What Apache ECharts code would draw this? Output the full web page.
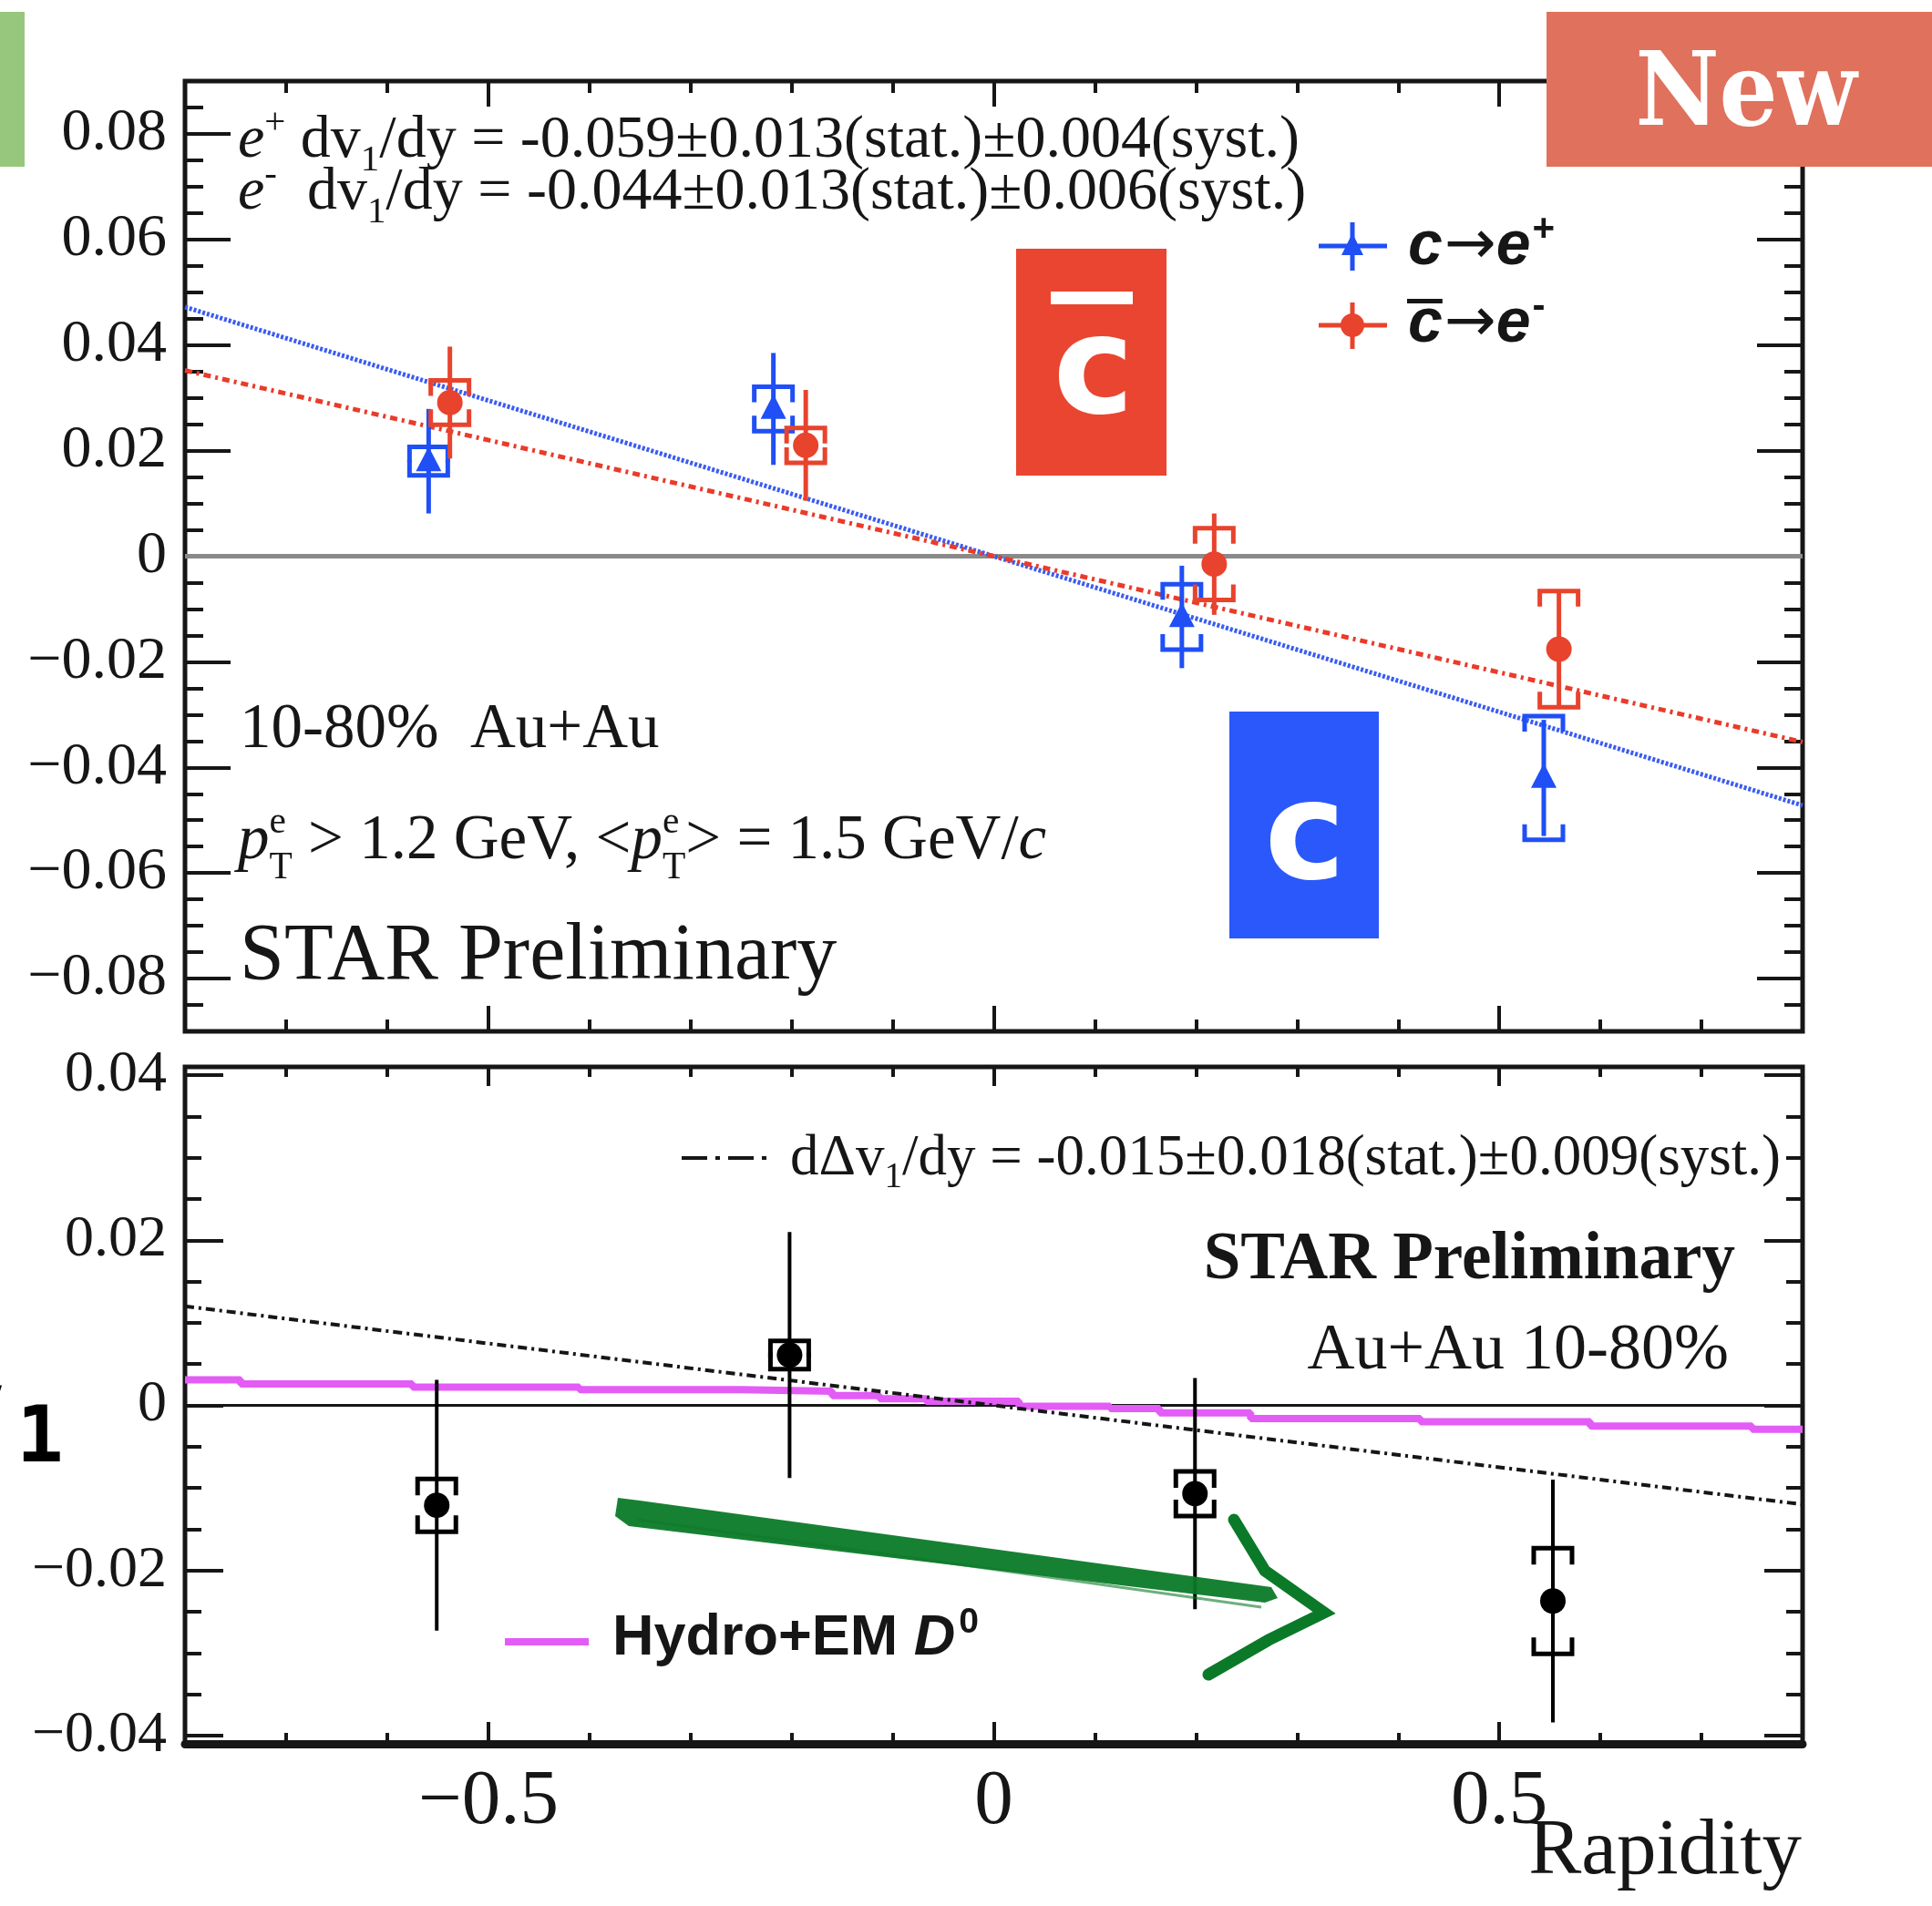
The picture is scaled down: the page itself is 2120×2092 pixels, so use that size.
<!DOCTYPE html>
<html>
<head>
<meta charset="utf-8">
<script src="https://cdn.jsdelivr.net/npm/echarts@6/dist/echarts.min.js"></script>
<style>
  html, body { margin: 0; padding: 0; background: #fff; }
  #chart { width: 2120px; height: 2092px; }
</style>
</head>
<body>
<div id="chart"></div>
<script>
// ---- c -> e+ (blue triangles) ----
const rapidityPlus = [-0.559, -0.218, 0.186, 0.544];
const v1Plus       = [0.0180, 0.0279, -0.0115, -0.0420];
const statPlus     = [0.0099, 0.0106, 0.0097, 0.0110];
const systPlus     = [0.0027, 0.0042, 0.0062, 0.0117];

// ---- cbar -> e- (red circles) ----
const rapidityMinus = [-0.538, -0.186, 0.218, 0.559];
const v1Minus       = [0.0291, 0.0210, -0.0015, -0.0176];
const statMinus     = [0.0106, 0.0105, 0.0096, 0.0110];
const systMinus     = [0.0042, 0.0033, 0.0068, 0.0110];

// ---- difference Delta v1 (black) ----
const rapidityDiff = [-0.551, -0.202, 0.199, 0.553];
const deltaV1      = [-0.0121, 0.0061, -0.0107, -0.0237];
const statDiff     = [0.0152, 0.0149, 0.0140, 0.0147];
const systDiff     = [0.0032, 0.0017, 0.0027, 0.0064];

// ---- linear fit slopes dv1/dy ----
const slopePlus  = -0.059;
const slopeMinus = -0.044;
const slopeDiff  = -0.015;

// ---- Hydro+EM D0 prediction (histogram bins) ----
const hydroEdges = [-0.8, -0.745, -0.575, -0.41, -0.25, -0.16, -0.113, -0.067, 0.025, 0.115, 0.164, 0.254, 0.422, 0.59, 0.75, 0.8];
const hydroV1    = [0.0031, 0.0026, 0.0022, 0.0019, 0.0017, 0.0012, 0.0008, 0.0005, -0.0001, -0.0004, -0.0009, -0.0016, -0.0020, -0.0025, -0.0029];

// ---- axis ranges and tick labels ----
const xRange = [-0.8, 0.8];
const yRangeTop = [-0.09, 0.09];
const yRangeBottom = [-0.041, 0.041];
const xMajor = [-0.5, 0, 0.5];
const yMajorTop = [-0.08, -0.06, -0.04, -0.02, 0, 0.02, 0.04, 0.06, 0.08];
const yMajorBottom = [-0.04, -0.02, 0, 0.02, 0.04];

const SERIF = "'Liberation Serif','Times New Roman',serif";
const SANS = "'Liberation Sans',Arial,sans-serif";
const DEJAVU = "'DejaVu Sans',sans-serif";
const MONO = "'DejaVu Sans Mono','Liberation Mono',monospace";
const INK = '#161616';
const BLUE = '#1f4ff5';
const RED = '#e8432d';
const MAGENTA = '#e35cf6';

function steps(lo, hi, step) {
  const out = [];
  const n = Math.round((hi - lo) / step);
  for (let i = 0; i <= n; i++) out.push(Math.round((lo + i * step) * 10000) / 10000);
  return out;
}
const xMinor = steps(-0.7, 0.7, 0.1);
const yMinorTop = steps(-0.085, 0.085, 0.005);
const yMinorBottom = steps(-0.04, 0.04, 0.005);

const minus = '\u2212';
const fmt2 = v => v === 0 ? '0' : (v < 0 ? minus : '') + Math.abs(v).toFixed(2);
const fmt1 = v => v === 0 ? '0' : (v < 0 ? minus : '') + Math.abs(v).toFixed(1);

// ---- axes ----
function xA(grid, pos, vals, len, label, lineW) {
  return {
    type: 'value', gridIndex: grid, position: pos, min: xRange[0], max: xRange[1],
    axisLine: { show: !!lineW, onZero: false, lineStyle: { color: INK, width: lineW || 1 } },
    splitLine: { show: false },
    axisTick: { show: true, inside: true, length: len, customValues: vals, lineStyle: { color: INK, width: 4 } },
    axisLabel: label ? Object.assign({ customValues: vals }, label) : { show: false }
  };
}
function yA(grid, pos, range, vals, len, label) {
  return {
    type: 'value', gridIndex: grid, position: pos, min: range[0], max: range[1],
    axisLine: { show: false, onZero: false },
    splitLine: { show: false },
    axisTick: { show: true, inside: true, length: len, customValues: vals, lineStyle: { color: INK, width: 4 } },
    axisLabel: label ? Object.assign({ customValues: vals }, label) : { show: false }
  };
}

const xAxes = [
  xA(0, 'bottom', xMinor, 13), xA(0, 'bottom', xMajor, 28),
  xA(0, 'top', xMinor, 13), xA(0, 'top', xMajor, 28),
  xA(1, 'bottom', xMinor, 12), xA(1, 'bottom', xMajor, 24,
    { show: true, margin: 22, formatter: fmt1, fontFamily: SERIF, fontSize: 85, color: INK }, 9),
  xA(1, 'top', xMinor, 11), xA(1, 'top', xMajor, 21)
];
const yAxes = [
  yA(0, 'left', yRangeTop, yMinorTop, 20),
  yA(0, 'left', yRangeTop, yMajorTop, 50,
    { show: true, margin: 20, formatter: fmt2, fontFamily: SERIF, fontSize: 66, color: INK }),
  yA(0, 'right', yRangeTop, yMinorTop, 20), yA(0, 'right', yRangeTop, yMajorTop, 50),
  yA(1, 'left', yRangeBottom, yMinorBottom, 18),
  yA(1, 'left', yRangeBottom, yMajorBottom, 42,
    { show: true, margin: 20, formatter: fmt2, fontFamily: SERIF, fontSize: 64, color: INK }),
  yA(1, 'right', yRangeBottom, yMinorBottom, 18), yA(1, 'right', yRangeBottom, yMajorBottom, 42)
];

// ---- error-bar points with bracket-style systematic uncertainties ----
function pointSeries(name, xs, ys, st, sy, color, marker, xi, yi, opt) {
  return {
    type: 'custom', name, xAxisIndex: xi, yAxisIndex: yi, z: 10, clip: false,
    data: xs.map((x, i) => [x, ys[i], st[i], sy[i]]),
    renderItem: (params, api) => {
      const x = api.value(0), y = api.value(1), e = api.value(2), s = api.value(3);
      const c = api.coord([x, y]);
      const t = api.coord([x, y + e]), b = api.coord([x, y - e]);
      const sT = api.coord([x, y + s]), sB = api.coord([x, y - s]);
      const hw = opt.hw, leg = opt.leg;
      const br = { stroke: color, lineWidth: opt.brW, fill: null, lineJoin: 'miter' };
      const kids = [
        { type: 'line', shape: { x1: c[0], y1: t[1], x2: c[0], y2: b[1] }, style: { stroke: color, lineWidth: opt.barW } },
        { type: 'polyline', shape: { points: [[c[0] - hw, sT[1] + leg], [c[0] - hw, sT[1]], [c[0] + hw, sT[1]], [c[0] + hw, sT[1] + leg]] }, style: br },
        { type: 'polyline', shape: { points: [[c[0] - hw, sB[1] - leg], [c[0] - hw, sB[1]], [c[0] + hw, sB[1]], [c[0] + hw, sB[1] - leg]] }, style: br }
      ];
      if (marker === 'triangle') {
        kids.push({ type: 'polygon', shape: { points: [[c[0], c[1] - 16], [c[0] - 14, c[1] + 11], [c[0] + 14, c[1] + 11]] }, style: { fill: color } });
      } else {
        kids.push({ type: 'circle', shape: { cx: c[0], cy: c[1], r: opt.r }, style: { fill: color } });
      }
      return { type: 'group', children: kids };
    }
  };
}

function fitLine(slope, xi, yi, color, width, dash) {
  return {
    type: 'line', xAxisIndex: xi, yAxisIndex: yi, z: 5, silent: true, symbol: 'none',
    data: [[xRange[0], slope * xRange[0]], [xRange[1], slope * xRange[1]]],
    lineStyle: { color, width, type: dash }
  };
}
function zeroLine(xi, yi, color, width) {
  return {
    type: 'line', xAxisIndex: xi, yAxisIndex: yi, z: 2, silent: true, symbol: 'none',
    data: [[xRange[0], 0], [xRange[1], 0]], lineStyle: { color, width }
  };
}

const hydroPts = [];
hydroV1.forEach((v, i) => { hydroPts.push([hydroEdges[i], v]); hydroPts.push([hydroEdges[i + 1], v]); });

// ---- text layout helper (super/subscripts) ----
const mctx = document.createElement('canvas').getContext('2d');
function fontStr(size, it, b, fam) { return (it ? 'italic ' : '') + (b ? 'bold ' : '') + size.toFixed(1) + 'px ' + fam; }
function textEl(x, y, text, font, fill, align) {
  return { type: 'text', x, y, z: 60, silent: true,
    style: { text, font, fill, textAlign: align || 'left', textVerticalAlign: 'middle' } };
}
function mathText(x0, base, size, fam, parts, o) {
  o = o || {};
  const fill = o.fill || INK, bold = !!o.bold;
  const els = [];
  let x = x0;
  const pos = [];
  parts.forEach(p => {
    const pf = p.fam || fam;
    if (p.stack) {
      const s = size * 0.6;
      let w = 0;
      p.stack.forEach((t, k) => {
        const f = fontStr(s, false, bold, pf);
        mctx.font = f;
        w = Math.max(w, mctx.measureText(t).width);
        const dy = k === 0 ? -size * 0.42 : size * 0.30;
        els.push(textEl(x, base + dy - s * 0.3, t, f, fill));
      });
      pos.push([x, w]);
      x += w + (p.gap || 0);
      return;
    }
    const small = p.sup || p.sub;
    const s = (small ? size * 0.62 : size) * (p.scale || 1);
    const dy = p.sup ? -size * 0.40 : p.sub ? size * 0.22 : 0;
    const f = fontStr(s, !!p.it, p.b === undefined ? bold : p.b, pf);
    mctx.font = f;
    const w = mctx.measureText(p.t).width;
    els.push(textEl(x + (p.pre || 0), base + dy - s * 0.3, p.t, f, fill));
    pos.push([x + (p.pre || 0), w]);
    x += w + (p.pre || 0) + (p.gap || 0);
  });
  els.pos = pos;
  return els;
}

// ---- annotations ----
const graphics = [];
graphics.push(...mathText(261, 174, 66, SERIF, [
  { t: 'e', it: true }, { t: '+', sup: true }, { t: ' dv' }, { t: '1', sub: true },
  { t: '/dy = -0.059\u00b10.013(stat.)\u00b10.004(syst.)' }]));
graphics.push(...mathText(261, 231, 66, SERIF, [
  { t: 'e', it: true }, { t: '-', sup: true }, { t: '  dv' }, { t: '1', sub: true },
  { t: '/dy = -0.044\u00b10.013(stat.)\u00b10.006(syst.)' }]));
graphics.push(...mathText(263, 823, 69, SERIF, [{ t: '10-80%  Au+Au' }]));
graphics.push(...mathText(261, 945, 69, SERIF, [
  { t: 'p', it: true }, { stack: ['e', 'T'] }, { t: ' > 1.2 GeV, <' },
  { t: 'p', it: true }, { stack: ['e', 'T'] }, { t: '> = 1.5 GeV/' }, { t: 'c', it: true }]));
graphics.push(...mathText(263, 1077, 88, SERIF, [{ t: 'STAR Preliminary' }]));

// legend (top panel)
graphics.push({ type: 'line', z: 60, shape: { x1: 1447, y1: 270, x2: 1522, y2: 270 }, style: { stroke: BLUE, lineWidth: 5 } });
graphics.push({ type: 'line', z: 60, shape: { x1: 1484, y1: 244, x2: 1484, y2: 297 }, style: { stroke: BLUE, lineWidth: 5 } });
graphics.push({ type: 'polygon', z: 61, shape: { points: [[1484, 256], [1472, 280], [1496, 280]] }, style: { fill: BLUE } });
graphics.push({ type: 'line', z: 60, shape: { x1: 1447, y1: 357, x2: 1522, y2: 357 }, style: { stroke: RED, lineWidth: 5 } });
graphics.push({ type: 'line', z: 60, shape: { x1: 1484, y1: 332, x2: 1484, y2: 383 }, style: { stroke: RED, lineWidth: 5 } });
graphics.push({ type: 'circle', z: 61, shape: { cx: 1484, cy: 357, r: 13 }, style: { fill: RED } });
const arrowPart = { t: '\u2192', fam: DEJAVU, b: false, scale: 1.0, pre: 2 };
graphics.push(...mathText(1545, 292, 68, SANS, [
  { t: 'c', it: true }, arrowPart, { t: 'e', it: true, gap: 2 }, { t: '+', sup: true }], { bold: true }));
const cbarLeg = mathText(1545, 377, 68, SANS, [
  { t: 'c', it: true }, arrowPart, { t: 'e', it: true, gap: 2 }, { t: '-', sup: true }], { bold: true });
graphics.push(...cbarLeg);
graphics.push({ type: 'rect', z: 60, shape: { x: cbarLeg.pos[0][0] - 1, y: 328, width: cbarLeg.pos[0][1] + 1, height: 5 }, style: { fill: INK } });

// bottom panel texts
graphics.push({ type: 'line', z: 60, shape: { x1: 748, y1: 1271, x2: 846, y2: 1271 }, style: { stroke: INK, lineWidth: 4, lineDash: [28, 9, 5, 9] } });
graphics.push(...mathText(867, 1291, 63, SERIF, [
  { t: 'd\u0394v' }, { t: '1', sub: true }, { t: '/dy = -0.015\u00b10.018(stat.)\u00b10.009(syst.)' }]));
graphics.push(textEl(1904, 1406 - 0.3 * 73, 'STAR Preliminary', fontStr(73, false, true, SERIF), INK, 'right'));
graphics.push(textEl(1897, 1505 - 0.3 * 72, 'Au+Au 10-80%', fontStr(72, false, false, SERIF), INK, 'right'));
graphics.push({ type: 'line', z: 60, shape: { x1: 554, y1: 1802, x2: 646, y2: 1802 }, style: { stroke: MAGENTA, lineWidth: 8 } });
graphics.push(...mathText(672, 1818, 63, SANS, [
  { t: 'Hydro+EM ' }, { t: 'D', it: true, gap: 4 }, { t: '0', sup: true }], { bold: true }));
graphics.push(textEl(1977, 2059 - 0.3 * 87, 'Rapidity', fontStr(87, false, false, SERIF), INK, 'right'));

// overlay badges
graphics.push({ type: 'rect', z: 80, shape: { x: 0, y: 13, width: 27, height: 170 }, style: { fill: '#97c67d' } });
graphics.push({ type: 'rect', z: 80, shape: { x: 1697, y: 13, width: 423, height: 170 }, style: { fill: '#e0715c' } });
graphics.push({ type: 'text', z: 81, x: 1916, y: 142 - 0.3 * 112, scaleX: 0.9,
  style: { text: 'New', font: fontStr(112, false, true, "'DejaVu Serif',serif"), fill: '#fff', textAlign: 'center', textVerticalAlign: 'middle' } });
graphics.push({ type: 'rect', z: 80, shape: { x: 1115, y: 273, width: 165, height: 249 }, style: { fill: '#ea4530' } });
graphics.push({ type: 'rect', z: 81, shape: { x: 1153, y: 320, width: 90, height: 14 }, style: { fill: '#fff' } });
graphics.push({ type: 'text', z: 81, x: 1200, y: 414,
  style: { text: 'c', font: fontStr(150, false, true, DEJAVU), fill: '#fff', textAlign: 'center', textVerticalAlign: 'middle' } });
graphics.push({ type: 'rect', z: 80, shape: { x: 1349, y: 781, width: 164, height: 249 }, style: { fill: '#2a58fb' } });
graphics.push({ type: 'text', z: 81, x: 1432, y: 925,
  style: { text: 'c', font: fontStr(150, false, true, DEJAVU), fill: '#fff', textAlign: 'center', textVerticalAlign: 'middle' } });

// hand-drawn green arrow
const GREEN = '#0b7a28';
graphics.push({ type: 'polygon', z: 70, shape: { points: [[678, 1644], [702, 1647], [1395, 1742], [1402, 1754], [1388, 1759], [690, 1675], [675, 1664]] }, style: { fill: GREEN, opacity: 0.95 } });
graphics.push({ type: 'polyline', z: 70, shape: { points: [[700, 1668], [1030, 1714], [1384, 1764]] }, style: { stroke: GREEN, lineWidth: 3, fill: null, opacity: 0.6 } });
graphics.push({ type: 'polyline', z: 70, shape: { points: [[1354, 1668], [1388, 1724], [1453, 1770], [1392, 1800], [1326, 1838]] }, style: { stroke: GREEN, lineWidth: 13, fill: null, lineJoin: 'miter', lineCap: 'round' } });

// partial axis title at the left edge
graphics.push({ type: 'text', z: 60, x: 7, y: 1594 - 0.3 * 124,
  style: { text: 'v', font: fontStr(124, false, true, MONO), fill: '#000', textAlign: 'right', textVerticalAlign: 'middle' } });
graphics.push({ type: 'text', z: 60, x: 44, y: 1607 - 0.3 * 86,
  style: { text: '1', font: fontStr(86, false, true, MONO), fill: '#000', textAlign: 'center', textVerticalAlign: 'middle' } });

const option = {
  animation: false,
  backgroundColor: '#fff',
  grid: [
    { left: 203, top: 89, width: 1775, height: 1043, show: true, borderColor: INK, borderWidth: 5, backgroundColor: 'transparent' },
    { left: 203, top: 1171, width: 1775, height: 743, show: true, borderColor: INK, borderWidth: 5, backgroundColor: 'transparent' }
  ],
  xAxis: xAxes,
  yAxis: yAxes,
  series: [
    zeroLine(0, 0, '#8a8a8a', 5),
    fitLine(slopePlus, 0, 0, '#3a5cf2', 5, [3, 2]),
    fitLine(slopeMinus, 0, 0, '#ea3b2a', 5, [8, 5, 3, 5]),
    pointSeries('c\u2192e+', rapidityPlus, v1Plus, statPlus, systPlus, BLUE, 'triangle', 0, 0, { hw: 21, leg: 17, barW: 5, brW: 5 }),
    pointSeries('cbar\u2192e-', rapidityMinus, v1Minus, statMinus, systMinus, RED, 'circle', 0, 0, { hw: 21, leg: 17, barW: 5, brW: 5, r: 14 }),

    zeroLine(4, 4, INK, 3),
    { type: 'line', name: 'Hydro+EM D0', xAxisIndex: 4, yAxisIndex: 4, z: 3, silent: true, symbol: 'none',
      data: hydroPts, lineStyle: { color: MAGENTA, width: 8 } },
    fitLine(slopeDiff, 4, 4, INK, 4, [10, 5, 3, 5]),
    pointSeries('\u0394v1', rapidityDiff, deltaV1, statDiff, systDiff, '#000', 'circle', 4, 4, { hw: 21, leg: 18, barW: 4, brW: 5, r: 14 })
  ],
  graphic: { elements: graphics }
};

const chart = echarts.init(document.getElementById('chart'), null, { renderer: 'canvas', width: 2120, height: 2092 });
chart.setOption(option);
</script>
</body>
</html>
